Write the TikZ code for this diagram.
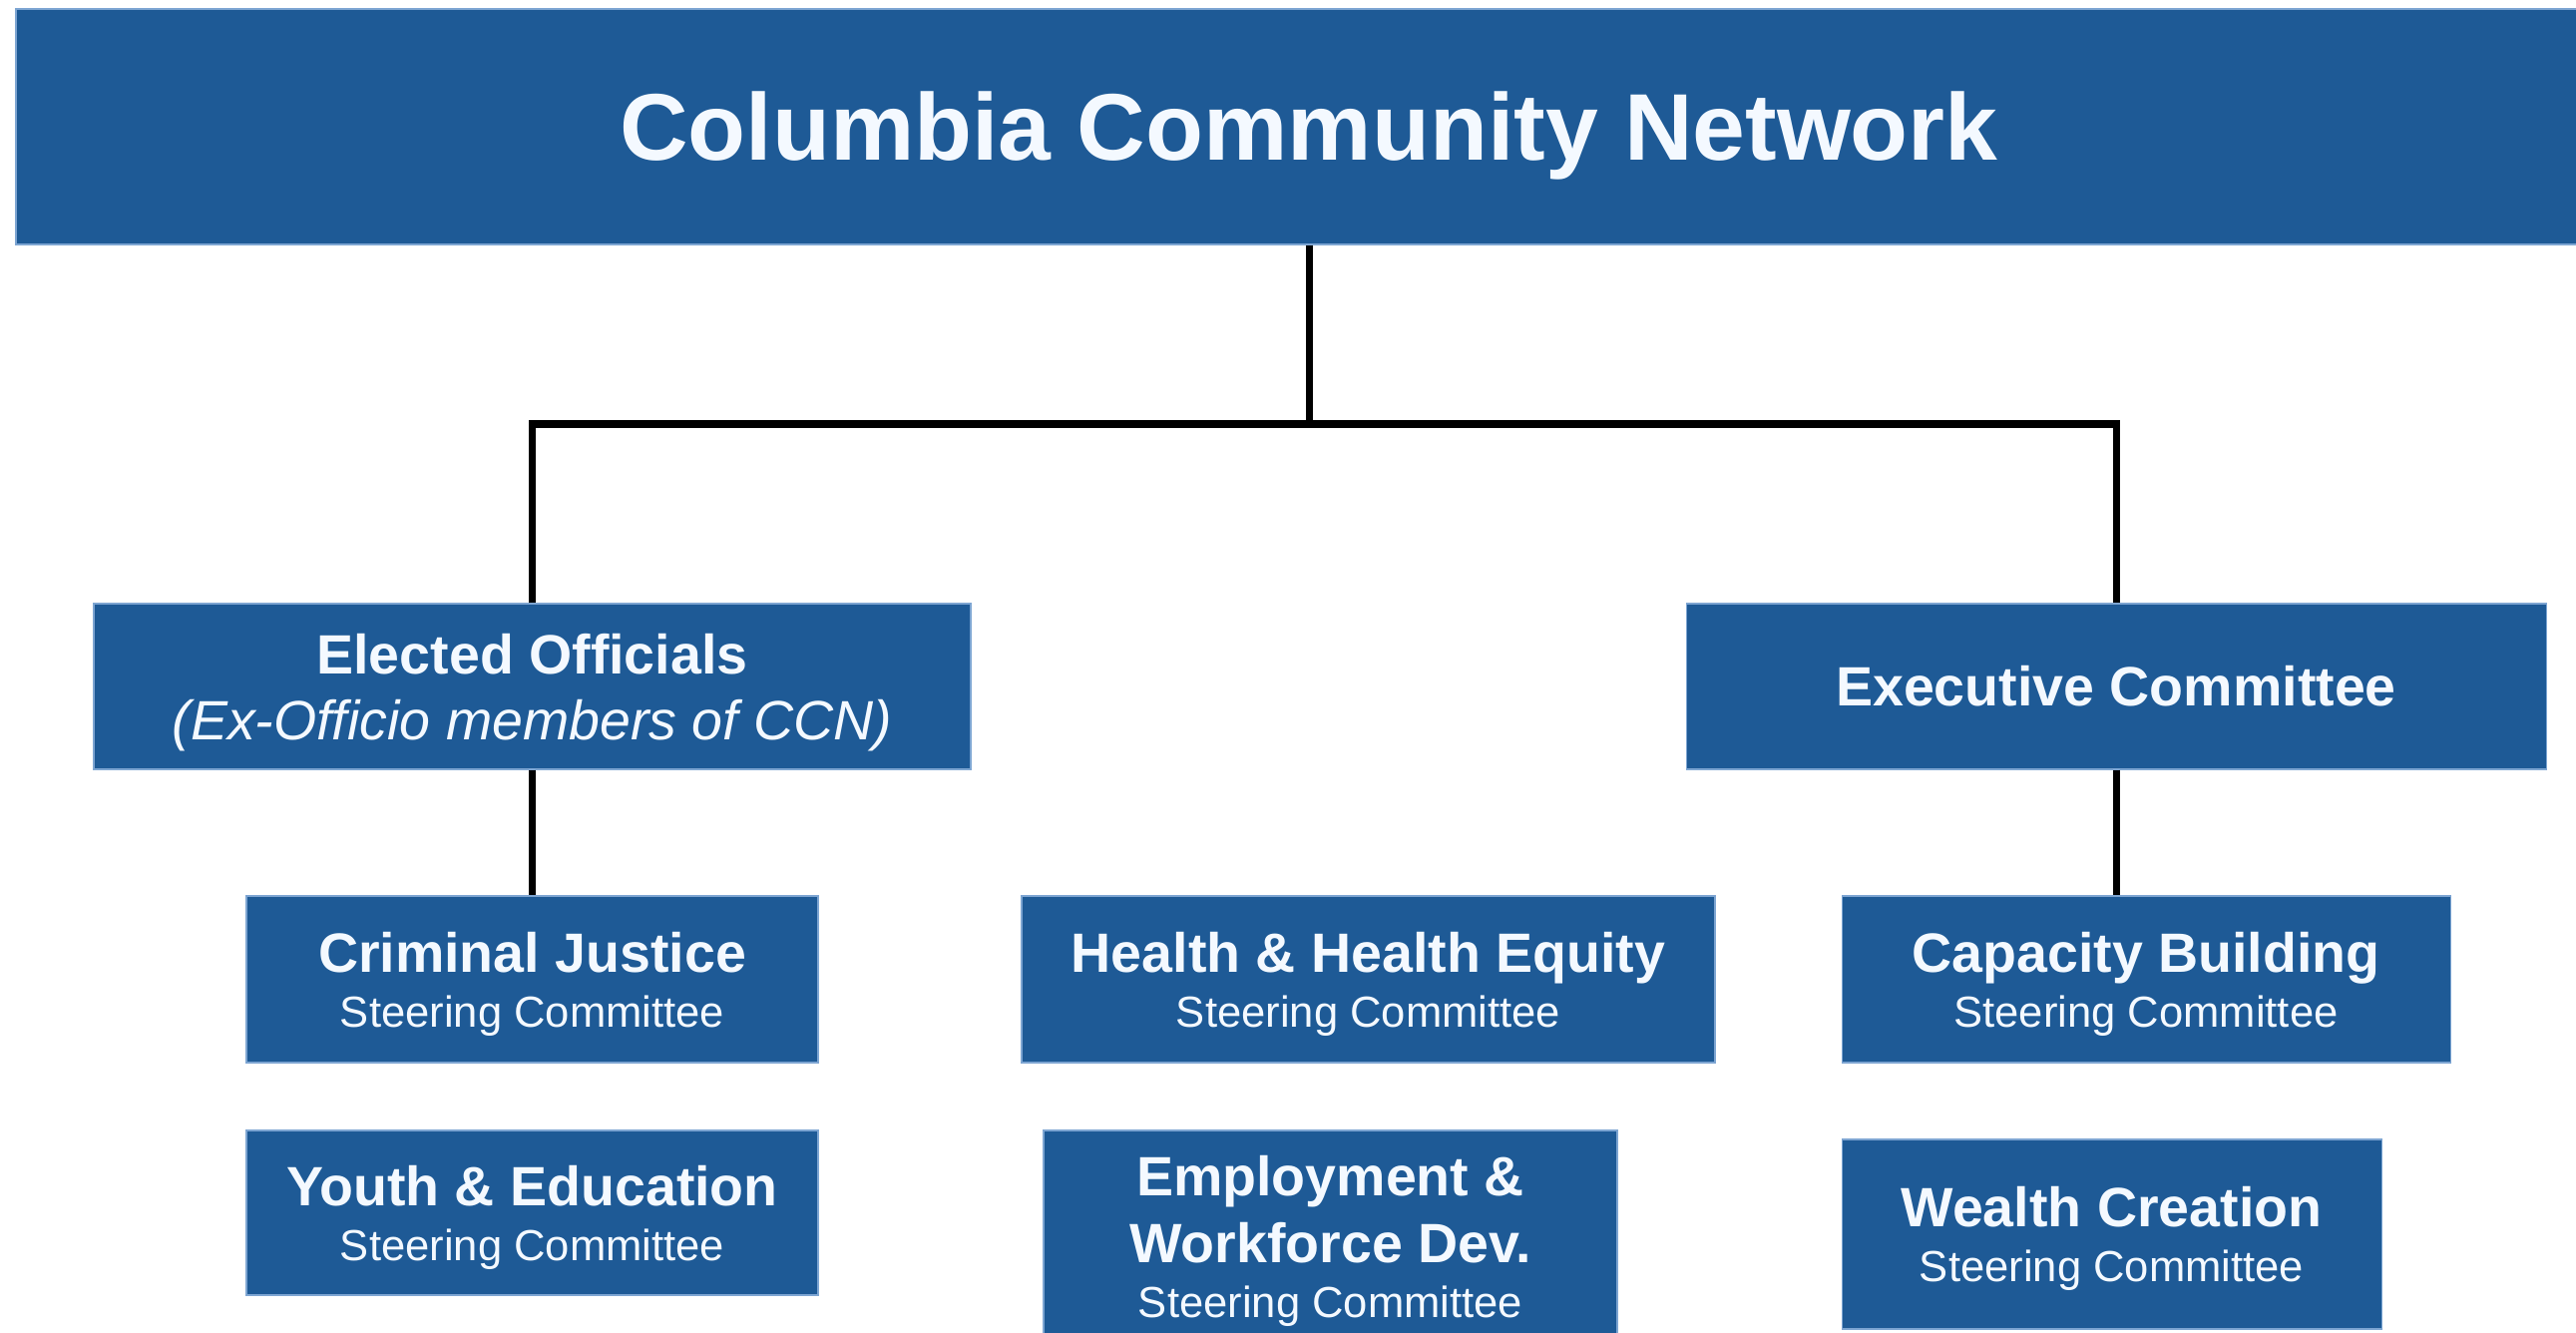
\documentclass[tikz,border=0pt]{standalone}
\usepackage{fontspec}
\setmainfont{Liberation Sans}
\definecolor{ccnblue}{RGB}{30,90,150}
\definecolor{ccnedge}{RGB}{125,165,210}
\definecolor{ccntext}{RGB}{244,249,255}
\newcommand{\steer}{\smash{\fontsize{12.4}{15.6}\selectfont\mdseries Steering Committee}}

\begin{document}
\begin{tikzpicture}[x=0.1mm, y=-0.1mm,
	banner/.style={fill=ccnblue, draw=ccnedge, line width=0.4pt, text=ccntext, inner sep=0pt,
		font=\fontsize{27}{30}\selectfont\bfseries, text height=19.3pt, text depth=0pt},
	unit/.style={fill=ccnblue, draw=ccnedge, line width=0.3pt, text=ccntext, inner sep=0pt,
		align=center, font=\fontsize{15.8}{15.6}\selectfont\bfseries},
	link/.style={line width=2pt}]
	\path[use as bounding box, fill=white] (0,0) rectangle (2582,1336);
	% top banner
	\node[banner, minimum width=259.2mm, minimum height=23.6mm] (ccn) at (1312,127) {Columbia Community Network};
	% second row
	\node[unit, minimum width=87.9mm, minimum height=16.6mm] (elected) at (533.5,688)
		{Elected Officials\\[3.2pt]\smash{\mdseries\itshape (Ex-Officio members of CCN)}};
	\node[unit, minimum width=86.2mm, minimum height=16.6mm] (exec) at (2121,688) {Executive Committee};
	% steering committees
	\node[unit, minimum width=57.3mm, minimum height=16.7mm] (criminal) at (533.5,981.5) {Criminal Justice\\\steer};
	\node[unit, minimum width=69.5mm, minimum height=16.7mm] (health) at (1371.5,981.5) {Health \& Health Equity\\\steer};
	\node[unit, minimum width=61.0mm, minimum height=16.7mm] (capacity) at (2151,981.5) {Capacity Building\\\steer};
	\node[unit, minimum width=57.3mm, minimum height=16.5mm] (youth) at (533.5,1215.5) {Youth \& Education\\\steer};
	\node[unit, minimum width=57.5mm, minimum height=21.3mm] (employment) at (1333.5,1239.5)
		{Employment \&\\[3.5pt]Workforce Dev.\\\steer};
	\node[unit, minimum width=54.1mm, minimum height=19.0mm] (wealth) at (2116.5,1237) {Wealth Creation\\\steer};
	% connectors
	\coordinate (bar) at (1312,425);
	\draw[link] (ccn.south) -- (bar);
	\draw[link] (elected.north) |- (bar) -| (exec.north);
	\draw[link] (elected.south) -- (criminal.north);
	\draw[link] (exec.south) -- (exec.south |- capacity.north);
\end{tikzpicture}
\end{document}
